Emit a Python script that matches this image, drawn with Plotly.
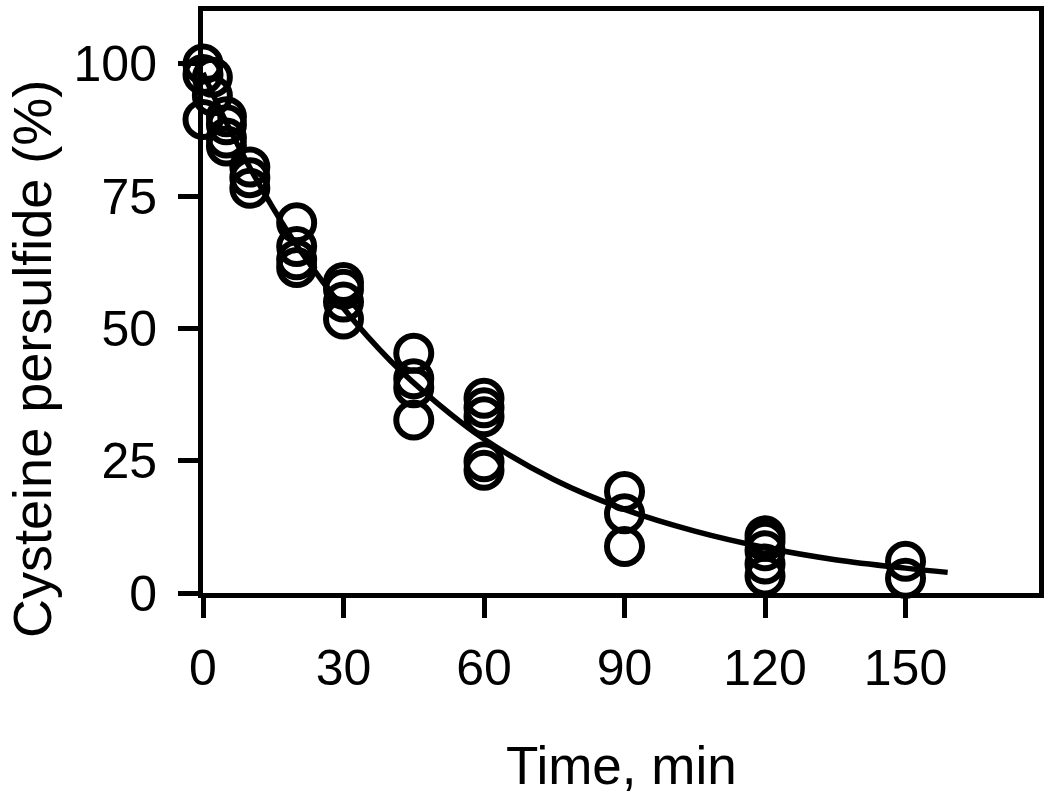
import plotly.graph_objects as go

# Measured data (time in min, cysteine persulfide %)
time_pts = [0, 0, 0, 2, 2, 5, 5, 5, 5, 10, 10, 10,
            20, 20, 20, 20, 30, 30, 30, 30,
            45, 45, 45, 45, 60, 60, 60, 60, 60,
            90, 90, 90, 120, 120, 120, 120, 120, 150, 150]
persulfide_pts = [100, 98, 89.5, 97.5, 94, 90, 88.5, 86, 84.5, 80.5, 78.5, 76.5,
                  70, 65.5, 63, 61.5, 58.7, 57.4, 55, 51.8,
                  45.3, 40.5, 38.8, 32.7, 36.8, 35, 33.3, 24.8, 23.2,
                  19.2, 15, 8.8, 10.8, 9.8, 8, 5.5, 3.2, 6, 2.8]

# Fitted decay curve
fit_time = [0, 5, 10, 15, 20, 30, 40, 50, 60, 75, 90, 105, 120, 135, 150, 159]
fit_vals = [98.3, 88.9, 80.4, 72.7, 65.7, 53.8, 43.9, 35.9, 29.1, 21.4, 15.8, 11.7, 8.6, 6.3, 4.7, 3.9]

x_ticks = [0, 30, 60, 90, 120, 150]
y_ticks = [0, 25, 50, 75, 100]

FONT = "Arial, Liberation Sans, sans-serif"

fig = go.Figure()
fig.add_trace(go.Scatter(
    x=fit_time, y=fit_vals, mode="lines", line=dict(color="black", width=5.5, shape="spline"),
    cliponaxis=False, showlegend=False, hoverinfo="skip"))
fig.add_trace(go.Scatter(
    x=time_pts, y=persulfide_pts, mode="markers",
    marker=dict(symbol="circle-open", size=35, color="black", line=dict(width=6, color="black")),
    cliponaxis=False, showlegend=False))

axis_common = dict(showgrid=False, zeroline=False, showline=True, linecolor="black", linewidth=5,
                   mirror=True, ticks="outside", ticklen=20, tickwidth=5, tickcolor="black",
                   tickfont=dict(family=FONT, size=50, color="black"))

fig.update_layout(
    width=1050, height=794,
    margin=dict(l=203, r=7, t=6, b=201),
    paper_bgcolor="white", plot_bgcolor="white",
    xaxis=dict(range=[0, 178.5], tickvals=x_ticks, ticktext=[str(v) for v in x_ticks],
               ticklabelstandoff=7, **axis_common),
    yaxis=dict(range=[0, 110], tickvals=y_ticks, ticktext=[str(v) for v in y_ticks],
               ticklabelstandoff=11, **axis_common),
    annotations=[
        dict(text="Time, min", xref="paper", yref="paper", x=0.5, y=-0.297,
             xanchor="center", yanchor="middle", showarrow=False,
             font=dict(family=FONT, size=53, color="black")),
        dict(text="Cysteine persulfide (%)", xref="paper", yref="paper", x=-0.204, y=0.403,
             xanchor="center", yanchor="middle", textangle=-90, showarrow=False,
             font=dict(family=FONT, size=54, color="black")),
    ],
)

fig.write_html("out.html", config={"displayModeBar": False},
               post_script="document.body.style.margin='0';document.body.style.overflow='hidden';")
